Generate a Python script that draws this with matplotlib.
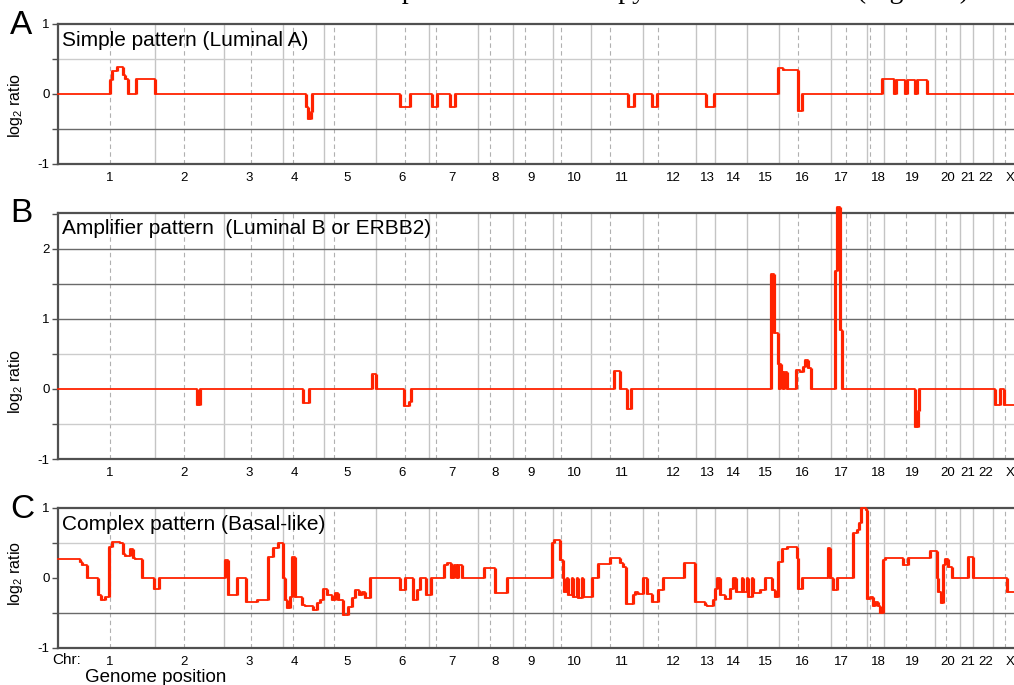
import numpy as np
import matplotlib
matplotlib.use('Agg')
import matplotlib.pyplot as plt

plt.rcParams['font.family'] = ['Liberation Sans', 'DejaVu Sans']
plt.rcParams['axes.unicode_minus'] = False
plt.rcParams['mathtext.fontset'] = 'custom'
plt.rcParams['mathtext.rm'] = 'Liberation Sans'

# genome position (probe index scale)
chrom_names = ['1', '2', '3', '4', '5', '6', '7', '8', '9', '10', '11', '12',
               '13', '14', '15', '16', '17', '18', '19', '20', '21', '22', 'X']
chrom_start = [0, 97, 166, 225, 266, 318, 371, 420, 455, 495, 533, 585,
               638, 657, 689, 721, 773, 809, 826, 877, 902, 915, 935]
centromere = [52, 126, 193, 235, 276, 347, 378, 432, 467, 503, 552, 600,
              740, 788, 812, 848, 888, 947]
label_pos = [52, 126, 191, 236, 289, 344, 394, 437, 473, 516, 564, 615,
             649, 675, 707, 744, 783, 820, 854, 890, 910, 928, 952]
genome_end = 975

# A: simple pattern, segment starts and log2 ratios
a_pos = [0, 52, 54, 59, 65, 67, 70, 78, 97, 248, 249.5, 252.5, 253.7,
         342, 352, 374.3, 378.7, 392, 397, 570.3, 576.3, 593.7, 599.3,
         647.7, 656.3, 720.3, 725, 739.7, 743.7, 823.7, 836, 838, 847.3,
         849, 857.3, 858.7, 869.3]
a_val = [0, 0.2, 0.33, 0.38, 0.27, 0.22, 0, 0.21, 0, -0.18, -0.35, -0.25, 0,
         -0.18, 0, -0.18, 0, -0.18, 0, -0.19, 0, -0.19, 0,
         -0.18, 0, 0.37, 0.35, -0.24, 0, 0.21, 0, 0.2, 0,
         0.2, 0, 0.2, 0]

# B: amplifier pattern
b_pos = [0, 138.7, 142, 245.3, 251.3, 313.7, 317.7, 346.3, 350.5, 352.7,
         556.3, 562, 569, 572.7, 713, 716.3, 719.7, 721, 721.7, 722.7, 725,
         725.7, 728.7, 738, 741.5, 745, 747, 750, 752.5, 777, 779.3, 782,
         783.7, 857, 859.7, 861, 937, 942, 946]
b_val = [0, -0.23, 0, -0.2, 0, 0.22, 0, -0.24, -0.18, 0,
         0.25, 0, -0.29, 0, 1.64, 0.8, 0.35, 0, 0.35, 0.24, 0,
         0.24, 0, 0.27, 0.24, 0.31, 0.41, 0.3, 0, 1.69, 2.6, 0.84,
         0, -0.54, -0.31, 0, -0.23, 0, -0.23]

# C: complex pattern
c_pos = [0, 22, 24.3, 28.7, 40.3, 42.7, 47, 51.3, 53.7, 62, 64.7, 67, 72,
         75.3, 77, 84.3, 96.3, 101, 167, 169.7, 178.7, 188, 198.7, 210.3,
         215.3, 219.7, 224.7, 227, 229.3, 232, 234.3, 237, 243.7, 247,
         255.3, 258.7, 262, 265.3, 268.7, 273.7, 277, 280.3, 285.3, 290.3,
         293.7, 297, 301, 303.7, 307, 312, 342, 347, 355.3, 359.3, 362,
         368, 372.7, 386, 388.7, 392.7, 396, 399.3, 400.3, 403.7, 426,
         437, 448.7, 494.3, 496, 502, 504.7, 506, 508.7, 510.3, 513.7,
         515.3, 518.7, 520.3, 523.7, 525.3, 533.7, 540.3, 552, 562,
         565.3, 568, 575.3, 577, 580.3, 585.3, 588.7, 593.7, 600.3,
         605.3, 626, 637, 647, 648.7, 655.3, 657, 658.7, 662, 667, 672,
         674.7, 678, 683.7, 685.3, 688.7, 690.3, 693.7, 695.3, 702, 707,
         713.7, 717, 720.3, 723.7, 728.7, 739.3, 740.3, 743.7, 770.3,
         772, 775.3, 779.3, 795.3, 798.7, 801.3, 802.7, 808, 809.3, 812,
         814.7, 817, 820.3, 822, 824.7, 827, 845.3, 850.3, 872, 878.7,
         880.3, 882.7, 885.3, 887, 890.3, 893.7, 910.3, 915.3, 948.7]
c_val = [0.27, 0.23, 0.19, 0, -0.24, -0.32, -0.27, 0.45, 0.52, 0.5, 0.35,
         0.32, 0.41, 0.28, 0.27, 0, -0.15, 0, 0.26, -0.24, 0, -0.34, -0.31,
         0.3, 0.43, 0.5, 0, -0.31, -0.43, -0.27, 0.3, -0.27, -0.39, -0.4,
         -0.46, -0.36, -0.31, -0.16, -0.24, -0.31, -0.22, -0.31, -0.53,
         -0.41, -0.29, -0.17, -0.24, -0.2, -0.29, 0, -0.17, 0, -0.31,
         -0.17, 0, -0.24, 0, 0.19, 0.21, 0, 0.19, 0, 0.19, 0, 0.15,
         -0.22, 0, 0.5, 0.55, 0.26, 0, -0.2, 0, -0.24, 0,
         -0.27, 0, -0.29, 0, -0.27, 0, 0.2, 0.28, 0.21,
         0.16, -0.37, -0.24, -0.2, -0.23, 0, -0.23, -0.34, -0.17,
         0, 0.22, -0.34, -0.39, -0.4, -0.31, -0.15, 0, -0.24, -0.3, -0.16,
         0, -0.2, 0, -0.2, 0, -0.27, 0, -0.22, -0.17, 0,
         -0.17, -0.27, 0.23, 0.42, 0.44, 0.28, -0.15, 0, 0.43,
         0, -0.17, 0, 0.64, 0.69, 0.78, 1.0, 0.97, -0.3, -0.27,
         -0.4, -0.34, -0.4, -0.5, 0.26, 0.28, 0.19, 0.28, 0.39, 0,
         -0.2, -0.36, 0.19, 0.27, 0.16, 0, 0.3, 0, -0.2]

top_text = 'nomes fall into one of three distinct patterns of DNA copy number alteration (Figure 1).   Si'

W, H = 1014, 685
fig = plt.figure(figsize=(W / 100, H / 100), dpi=100)


def panel(top_px, bottom_px, ylim, pos, val, dark, light, title, letter, ylab_frac):
    ax = fig.add_axes([58 / W, 1 - bottom_px / H, genome_end / W, (bottom_px - top_px) / H])
    ax.set_xlim(0, genome_end)
    ax.set_ylim(*ylim)
    for x in chrom_start[1:]:
        ax.axvline(x, color='#c4c4c4', lw=1, zorder=1)
    for x in centromere:
        ax.axvline(x, color='#b0b0b0', lw=0.8, ls=(0, (4, 3)), zorder=1)
    for y in dark:
        ax.axhline(y, color='#6a6a6a', lw=1, zorder=1)
    for y in light:
        ax.axhline(y, color='#cccccc', lw=1, zorder=1)
    x = np.append(pos, genome_end)
    y = np.append(val, val[-1])
    ax.step(x, y, where='post', color='#ff2200', lw=1.3, zorder=3, clip_on=False)
    # jumps between segments look heavier in the original
    ax.vlines(pos[1:], val[:-1], val[1:], color='#ff2200', lw=2.3, zorder=3, clip_on=False)

    for s in ['top', 'left', 'bottom']:
        ax.spines[s].set_color('#505050')
        ax.spines[s].set_linewidth(1.6)
    ax.spines['right'].set_visible(False)

    yt = np.arange(-1, ylim[1] + 0.01, 0.5)
    ax.set_yticks(yt)
    ax.set_yticklabels(['%d' % v if v == int(v) else '' for v in yt])
    ax.tick_params(axis='y', length=4, width=1, color='#505050', pad=2, labelsize=9.5)
    ax.set_xticks(label_pos)
    ax.set_xticklabels(chrom_names)
    ax.tick_params(axis='x', length=0, pad=6, labelsize=9.5)

    ax.set_ylabel(r'log$_2$ ratio', fontsize=11.5)
    ax.yaxis.set_label_coords(-0.034, ylab_frac)

    fig.text(62 / W, 1 - (top_px + 16) / H, title, fontsize=15, va='center')
    fig.text(10 / W, 1 - (top_px + 1) / H, letter, fontsize=24, va='center')
    return ax


panel(24, 164, (-1, 1), a_pos, a_val, [-0.5], [0.5],
      'Simple pattern (Luminal A)', 'A', 0.42)
panel(213, 459, (-1, 2.514), b_pos, b_val, [1, 1.5, 2], [0.5, -0.5],
      'Amplifier pattern  (Luminal B or ERBB2)', 'B', 0.317)
panel(508, 648, (-1, 1), c_pos, c_val, [-0.5], [0.5],
      'Complex pattern (Basal-like)', 'C', 0.53)

fig.text(52 / W, 1 - 660 / H, 'Chr:', fontsize=11, va='center')
fig.text(85 / W, 1 - 677 / H, 'Genome position', fontsize=13.5, va='center')
fig.text(0, 1 + 1.5 / H, top_text, fontsize=20, va='baseline',
         family=['Liberation Serif', 'DejaVu Serif'])

fig.savefig('out.png', dpi=100)
